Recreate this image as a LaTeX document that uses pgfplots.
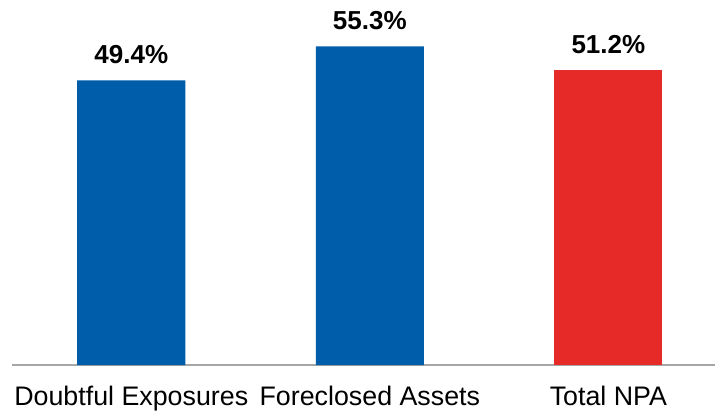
\documentclass[border=0pt]{standalone}
\usepackage{pgfplots}
\pgfplotsset{compat=1.18}
\usepackage{fontspec}
\setmainfont{Liberation Sans}
\definecolor{barblue}{RGB}{0,93,170}
\definecolor{barred}{RGB}{229,42,39}
\definecolor{axgray}{RGB}{166,166,166}
\begin{document}
\begin{tikzpicture}
\useasboundingbox (-6pt,-23pt) rectangle (351.5pt,182.5pt);
\begin{axis}[
  at={(0,0)}, anchor=south west,
  scale only axis, width=351.5pt, height=182.5pt,
  xmin=-0.5, xmax=2.447, ymin=0, ymax=63.37,
  clip=false,
  hide y axis,
  axis x line*=bottom,
  x axis line style={-, draw=axgray, line width=1pt},
  xtick={0,1,2},
  xticklabels={Doubtful Exposures, Foreclosed Assets, Total NPA},
  major tick length=0pt,
  xticklabel style={font=\fontsize{13.4}{15}\selectfont, anchor=base, yshift=-20.3pt},
  ybar, bar width=0.453, bar shift=0pt,
  point meta=explicit symbolic,
  nodes near coords,
  every node near coord/.append style={anchor=base, yshift=8.5pt, font=\fontsize{13}{15}\selectfont\bfseries, text=black},
]
\addplot[fill=barblue, draw=none] coordinates {(0,49.4) [49.4\%] (1,55.3) [55.3\%]};
\addplot[fill=barred, draw=none] coordinates {(2,51.2) [51.2\%]};
\end{axis}
\end{tikzpicture}
\end{document}
